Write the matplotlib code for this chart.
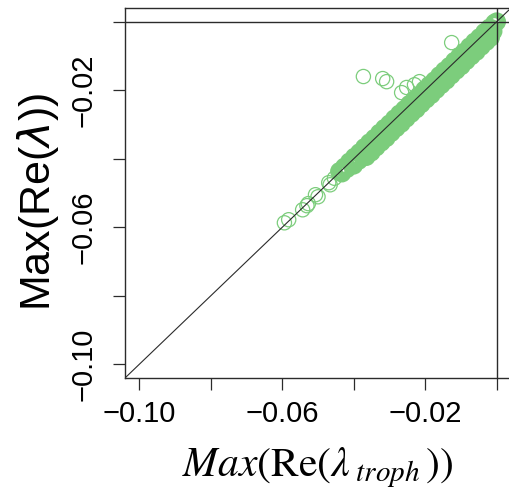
import matplotlib
matplotlib.use("Agg")
import matplotlib.pyplot as plt
import numpy as np

# Dense band of community-matrix eigenvalue pairs (x = trophic-only, y = full)
band1_x = [-0.0440, -0.0426, -0.0412, -0.0398, -0.0384, -0.0370, -0.0356, -0.0342,
           -0.0328, -0.0314, -0.0300, -0.0286, -0.0272, -0.0258, -0.0244, -0.0230,
           -0.0216, -0.0202, -0.0188, -0.0174, -0.0160, -0.0146, -0.0132, -0.0118,
           -0.0104, -0.0090, -0.0076, -0.0062, -0.0048, -0.0034, -0.0020, -0.0006,
           0.0000]
band1_y = [-0.0437, -0.0424, -0.0409, -0.0395, -0.0382, -0.0367, -0.0353, -0.0340,
           -0.0325, -0.0311, -0.0298, -0.0283, -0.0269, -0.0256, -0.0241, -0.0227,
           -0.0214, -0.0199, -0.0185, -0.0172, -0.0157, -0.0143, -0.0130, -0.0115,
           -0.0101, -0.0088, -0.0073, -0.0059, -0.0046, -0.0031, -0.0018, -0.0004,
           0.0000]

band2_x = [-0.0433, -0.0419, -0.0405, -0.0391, -0.0377, -0.0363, -0.0349, -0.0335,
           -0.0321, -0.0307, -0.0293, -0.0279, -0.0265, -0.0251, -0.0237, -0.0223,
           -0.0209, -0.0195, -0.0181, -0.0167, -0.0153, -0.0139, -0.0125, -0.0111,
           -0.0097, -0.0083, -0.0069, -0.0055, -0.0041, -0.0027, -0.0013]
band2_y = [-0.0442, -0.0429, -0.0414, -0.0399, -0.0387, -0.0372, -0.0357, -0.0345,
           -0.0330, -0.0315, -0.0303, -0.0288, -0.0273, -0.0261, -0.0246, -0.0231,
           -0.0219, -0.0204, -0.0189, -0.0177, -0.0162, -0.0147, -0.0135, -0.0120,
           -0.0105, -0.0093, -0.0078, -0.0063, -0.0051, -0.0036, -0.0021]

band3_x = [-0.0400, -0.0386, -0.0372, -0.0358, -0.0344, -0.0330, -0.0316, -0.0302,
           -0.0288, -0.0274, -0.0260, -0.0246, -0.0232, -0.0218, -0.0204, -0.0190,
           -0.0176, -0.0162, -0.0148, -0.0134, -0.0120, -0.0106, -0.0092, -0.0078,
           -0.0064, -0.0050, -0.0036, -0.0022, -0.0010]
band3_y = [-0.0419, -0.0405, -0.0390, -0.0376, -0.0363, -0.0348, -0.0334, -0.0321,
           -0.0306, -0.0292, -0.0279, -0.0264, -0.0250, -0.0237, -0.0222, -0.0208,
           -0.0195, -0.0180, -0.0166, -0.0153, -0.0138, -0.0124, -0.0111, -0.0096,
           -0.0082, -0.0069, -0.0054, -0.0040, -0.0028]

band4_x = [-0.0365, -0.0351, -0.0337, -0.0323, -0.0309, -0.0295, -0.0281, -0.0267,
           -0.0253, -0.0239, -0.0225, -0.0211, -0.0197, -0.0183, -0.0169, -0.0155,
           -0.0141, -0.0127, -0.0113, -0.0099, -0.0085, -0.0071, -0.0057, -0.0043,
           -0.0029, -0.0017]
band4_y = [-0.0394, -0.0381, -0.0366, -0.0352, -0.0339, -0.0324, -0.0310, -0.0297,
           -0.0282, -0.0268, -0.0255, -0.0240, -0.0226, -0.0213, -0.0198, -0.0184,
           -0.0171, -0.0156, -0.0142, -0.0129, -0.0114, -0.0100, -0.0087, -0.0072,
           -0.0058, -0.0046]

# Sparse lower tail close to the 1:1 line
tail_x = [-0.0594, -0.0582, -0.0543, -0.0531, -0.0527, -0.0507, -0.0500,
          -0.0470, -0.0466, -0.0454, -0.0430, -0.0424]
tail_y = [-0.0587, -0.0578, -0.0549, -0.0537, -0.0531, -0.0505, -0.0511,
          -0.0470, -0.0476, -0.0457, -0.0432, -0.0436]

# Points lying clearly above the 1:1 line
above_x = [-0.0373, -0.0319, -0.0308, -0.0266, -0.0252, -0.0230, -0.0216, -0.0126]
above_y = [-0.0160, -0.0166, -0.0175, -0.0207, -0.0192, -0.0184, -0.0175, -0.0061]

xticks = [-0.10, -0.08, -0.06, -0.04, -0.02, 0.0]
xticklabels = ["\u22120.10", "", "\u22120.06", "", "\u22120.02", ""]
yticks = [-0.10, -0.08, -0.06, -0.04, -0.02, 0.0]
yticklabels = ["\u22120.10", "", "\u22120.06", "", "\u22120.02", ""]

green = "#7CCD7C"
ink = "#2b2b2b"

fig = plt.figure(figsize=(5.09, 4.97), dpi=100)
ax = fig.add_axes([125 / 509, 119 / 497, 386 / 509, 370 / 497])

band_style = dict(s=105, facecolors="none", edgecolors=green, linewidths=3.2)
for bx, by in [(band1_x, band1_y), (band2_x, band2_y),
               (band3_x, band3_y), (band4_x, band4_y)]:
    ax.scatter(bx, by, **band_style)

ring_style = dict(s=105, facecolors="none", edgecolors=green, linewidths=0.9)
ax.scatter(tail_x, tail_y, **ring_style)
ax.scatter(above_x, above_y, **ring_style)

ax.axline((0, 0), slope=1, color=ink, lw=0.8)
ax.axhline(0, color=ink, lw=1.0)
ax.axvline(0, color=ink, lw=1.0)

ax.set_xlim(-0.104, 0.004)
ax.set_ylim(-0.104, 0.004)

ax.set_xticks(xticks)
ax.set_xticklabels(xticklabels)
ax.set_yticks(yticks)
ax.set_yticklabels(yticklabels, rotation=90, va="center")

for lab in ax.get_xticklabels() + ax.get_yticklabels():
    lab.set_fontfamily("Liberation Sans")
    lab.set_fontsize(21)

ax.tick_params(axis="both", direction="out", length=8.5, width=0.9, color=ink)
ax.tick_params(axis="x", pad=7)
ax.tick_params(axis="y", pad=11)

for side in ["left", "bottom", "top", "right"]:
    ax.spines[side].set_color(ink)
    ax.spines[side].set_linewidth(1.0)

ax.set_ylabel(r"Max(Re($\lambda$))", fontfamily="Liberation Sans",
              fontsize=31, math_fontfamily="dejavusans")
ax.yaxis.set_label_coords(-0.165, 0.475)
ax.set_xlabel(r"$\mathit{Max}(\mathrm{Re}(\lambda_{\;\mathit{troph}}\,))$",
              fontsize=30, math_fontfamily="stix")
ax.xaxis.set_label_coords(0.5, -0.183)

fig.savefig("out.png", dpi=100)
